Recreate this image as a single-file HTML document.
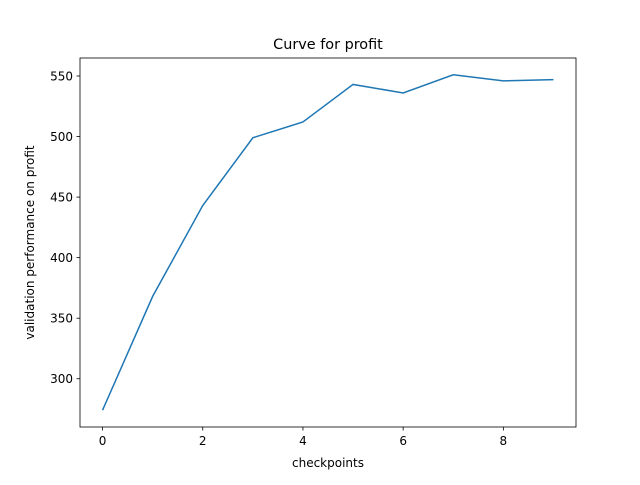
<!DOCTYPE html>
<html><head><meta charset="utf-8"><style>
body{margin:0;background:#fff;}
text{font-family:"DejaVu Sans","Liberation Sans",sans-serif;fill:#000;}
</style></head><body>
<svg id="chart" width="640" height="480">
<rect width="640" height="480" fill="#fff"/>
<text x="328" y="49" font-size="14.4" text-anchor="middle">Curve for profit</text>
<g id="xticks"></g><g id="yticks"></g>
<path id="line" fill="none" stroke="#1f77b4" stroke-width="1.5"/>
<rect x="80" y="58" width="496" height="369" fill="none" stroke="#000" stroke-width="0.8"/>
<text x="328" y="467" font-size="12" text-anchor="middle">checkpoints</text>
<text transform="translate(34,242.5) rotate(-90)" font-size="12" text-anchor="middle">validation performance on profit</text>
</svg>
<script>
const xValues=[0,1,2,3,4,5,6,7,8,9];
const profitValues=[274,368,443,499,512,543,536,551,546,547];
const xTickLabels=[0,2,4,6,8];
const yTickLabels=[300,350,400,450,500,550];
const X0=80,X1=576,Y0=58,Y1=427;
const xmin=-0.45,xmax=9.45;
const lo=Math.min(...profitValues),hi=Math.max(...profitValues),pad=(hi-lo)*0.05;
const ymin=lo-pad,ymax=hi+pad;
const sx=v=>X0+(v-xmin)/(xmax-xmin)*(X1-X0);
const sy=v=>Y1-(v-ymin)/(ymax-ymin)*(Y1-Y0);
const NS="http://www.w3.org/2000/svg";
document.getElementById('line').setAttribute('d',xValues.map((x,i)=>(i?'L':'M')+sx(x)+','+sy(profitValues[i])).join(''));
const xg=document.getElementById('xticks');
xTickLabels.forEach(t=>{
 const l=document.createElementNS(NS,'line');
 l.setAttribute('x1',sx(t));l.setAttribute('x2',sx(t));l.setAttribute('y1',Y1);l.setAttribute('y2',Y1+3.5);l.setAttribute('stroke','#000');l.setAttribute('stroke-width','0.8');
 
 
 xg.appendChild(l);
 const tx=document.createElementNS(NS,'text');
 tx.setAttribute('x',sx(t));tx.setAttribute('y',Y1+18);tx.setAttribute('font-size','12');tx.setAttribute('text-anchor','middle');tx.textContent=t;
 
 
 xg.appendChild(tx);
});
const yg=document.getElementById('yticks');
yTickLabels.forEach(t=>{
 const l=document.createElementNS(NS,'line');
 l.setAttribute('x1',X0-3.5);l.setAttribute('x2',X0);l.setAttribute('y1',sy(t));l.setAttribute('y2',sy(t));l.setAttribute('stroke','#000');l.setAttribute('stroke-width','0.8');
 
 
 yg.appendChild(l);
 const tx=document.createElementNS(NS,'text');
 tx.setAttribute('x',X0-7);tx.setAttribute('y',sy(t)+4.5);tx.setAttribute('font-size','12');tx.setAttribute('text-anchor','end');tx.textContent=t;
 
 
 yg.appendChild(tx);
});
</script>
</body></html>
